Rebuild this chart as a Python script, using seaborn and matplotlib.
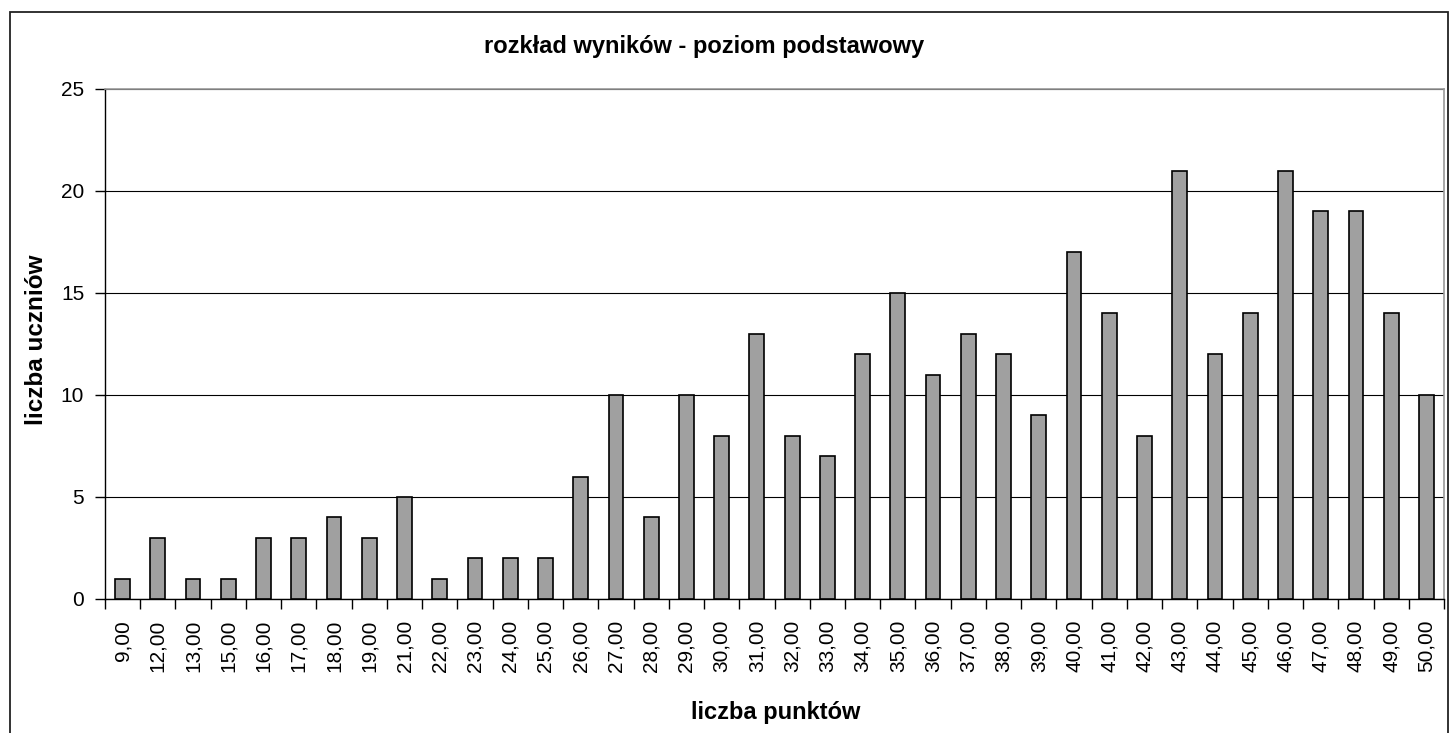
import matplotlib
matplotlib.use("Agg")
import matplotlib.pyplot as plt
import seaborn as sns
import pandas as pd
from matplotlib.patches import Rectangle

punkty = [9, 12, 13, 15, 16, 17, 18, 19, 21, 22, 23, 24, 25, 26, 27, 28, 29, 30, 31,
          32, 33, 34, 35, 36, 37, 38, 39, 40, 41, 42, 43, 44, 45, 46, 47, 48, 49, 50]
uczniowie = [1, 3, 1, 1, 3, 3, 4, 3, 5, 1, 2, 2, 2, 6, 10, 4, 10, 8, 13, 8, 7, 12, 15,
             11, 13, 12, 9, 17, 14, 8, 21, 12, 14, 21, 19, 19, 14, 10]
etykiety = [f"{p},00" for p in punkty]

sns.set_theme(style="white")
plt.rcParams['font.family'] = ['Liberation Sans', 'DejaVu Sans']
plt.rcParams['text.color'] = 'black'
plt.rcParams['xtick.color'] = 'black'
plt.rcParams['ytick.color'] = 'black'
plt.rcParams['xtick.labelcolor'] = 'black'
plt.rcParams['ytick.labelcolor'] = 'black'

df = pd.DataFrame({"kat": etykiety, "n": uczniowie})

W, H = 1450, 733
fig = plt.figure(figsize=(14.5, 7.33), dpi=100)
fig.patches.append(Rectangle((10/W, -0.01), 1438/W, (H-12)/H + 0.01,
                             transform=fig.transFigure, fill=False,
                             edgecolor='#222222', linewidth=1.3, zorder=0))
ax = fig.add_axes([105/W, (H-599)/H, (1444-105)/W, (599-89)/H])

sns.barplot(data=df, x="kat", y="n", color="#a0a0a0", edgecolor="black",
            linewidth=1.2, width=0.42, saturation=1, ax=ax, zorder=3)

ax.set_ylim(0, 25)
ax.set_xlim(-0.5, len(punkty) - 0.5)
ax.set_yticks([0, 5, 10, 15, 20, 25])
ax.yaxis.grid(True, color='black', linewidth=0.8, zorder=0)
ax.set_axisbelow(True)

for s in ['top', 'right']:
    ax.spines[s].set_color('#999999')
    ax.spines[s].set_linewidth(1.2)
for s in ['left', 'bottom']:
    ax.spines[s].set_color('black')
    ax.spines[s].set_linewidth(1.0)

ax.set_xticks([i + 0.5 for i in range(-1, len(punkty))], minor=True)
ax.tick_params(axis='x', which='major', length=0, labelrotation=90, labelsize=15, pad=15)
ax.tick_params(axis='x', which='minor', length=7, width=1, color='black', direction='out', bottom=True)
ax.tick_params(axis='y', which='major', length=7, width=1, color='black', direction='out', left=True, labelsize=15, pad=8)

ax.set_xlabel("")
ax.set_ylabel("")
fig.text(776/W, 1 - 713/H, "liczba punktów", fontsize=17, fontweight='bold',
         ha='center', va='center', color='black')
fig.text(37/W, 1 - 340/H, "liczba uczniów", fontsize=17.5, fontweight='bold',
         ha='center', va='center', rotation=90, color='black')
fig.text(704/W, 1 - 46/H, "rozkład wyników - poziom podstawowy", fontsize=17,
         fontweight='bold', ha='center', va='center', color='black')

fig.savefig("out.png", dpi=100, facecolor='white')
